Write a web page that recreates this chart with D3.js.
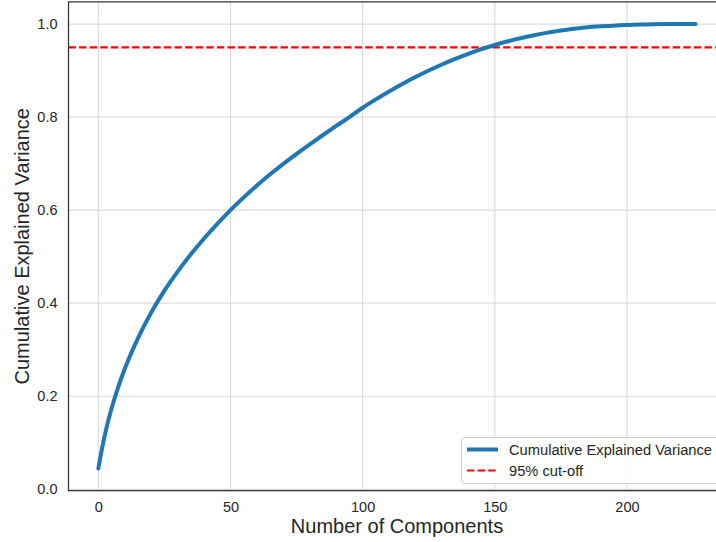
<!DOCTYPE html>
<html>
<head>
<meta charset="utf-8">
<script src="https://cdn.jsdelivr.net/npm/d3@7"></script>
<style>
  html, body { margin: 0; padding: 0; background: #fff; }
  svg { display: block; font-family: "Liberation Sans", Arial, sans-serif; }
</style>
</head>
<body>
<svg id="chart" width="716" height="542"></svg>
<script>
// Components, with cumulative explained variance
const components = [0, 2, 4, 6, 8, 10, 15, 20, 25, 30, 35, 40, 45, 50, 55, 60, 65, 70, 75, 80, 85, 90, 95, 100, 105, 110, 115, 120, 125, 130, 135, 140, 145, 150, 155, 160, 165, 170, 175, 180, 185, 190, 195, 200, 205, 210, 220, 226];
const cumVariance = [0.045, 0.105, 0.153, 0.193, 0.228, 0.259, 0.325, 0.380, 0.427, 0.468, 0.505, 0.539, 0.5705, 0.600, 0.6275, 0.653, 0.677, 0.6995, 0.721, 0.7415, 0.7615, 0.781, 0.800, 0.820, 0.838, 0.855, 0.871, 0.886, 0.900, 0.913, 0.925, 0.936, 0.946, 0.955, 0.963, 0.970, 0.976, 0.9815, 0.986, 0.990, 0.993, 0.995, 0.9965, 0.998, 0.999, 0.9995, 1.0, 1.0];
const cutoff = 0.95;
const xTicks = [0, 50, 100, 150, 200];
const yTicks = [0.0, 0.2, 0.4, 0.6, 0.8, 1.0];
const legendLabels = ["Cumulative Explained Variance", "95% cut-off"];

const svg = d3.select("#chart");
const x = d3.scaleLinear().domain([-11.3, 237.3]).range([68.5, 725.5]);
const y = d3.scaleLinear().domain([-0.003, 1.0478]).range([490.7, 1.8]);
const [x0, x1] = x.range();
const [y0, y1] = y.range();

// grid
const grid = svg.append("g");
grid.selectAll("line.gx").data(xTicks).join("line")
  .attr("x1", d => x(d)).attr("x2", d => x(d)).attr("y1", y1).attr("y2", y0)
  .attr("stroke", "#dcdcdc").attr("stroke-width", 1.2);
grid.selectAll("line.gy").data(yTicks).join("line")
  .attr("x1", x0).attr("x2", x1).attr("y1", d => y(d)).attr("y2", d => y(d))
  .attr("stroke", "#dcdcdc").attr("stroke-width", 1.2);

// axes with no tick marks
const xAxis = svg.append("g").attr("transform", `translate(0,${y0})`)
  .call(d3.axisBottom(x).tickValues(xTicks).tickSize(0).tickPadding(11).tickFormat(d3.format("d")));
const yAxis = svg.append("g").attr("transform", `translate(${x0},0)`)
  .call(d3.axisLeft(y).tickValues(yTicks).tickSize(0).tickPadding(11).tickFormat(d3.format(".1f")));
[xAxis, yAxis].forEach(a => {
  a.select(".domain").remove();
  a.selectAll("text").attr("font-size", 14.5).attr("fill", "#262626")
    .attr("font-family", "'Liberation Sans', Arial, sans-serif");
});

// cut-off line
svg.append("line")
  .attr("x1", x0).attr("x2", x1).attr("y1", y(cutoff)).attr("y2", y(cutoff))
  .attr("stroke", "#ff0000").attr("stroke-width", 2.2).attr("stroke-dasharray", "7.4,3.2");

// curve
const line = d3.line().x((d, i) => x(components[i])).y(d => y(d)).curve(d3.curveMonotoneX);
svg.append("path").datum(cumVariance)
  .attr("d", line).attr("fill", "none")
  .attr("stroke", "#1f77b4").attr("stroke-width", 4).attr("stroke-linecap", "round")
  .attr("stroke-linejoin", "round");

// spines
svg.append("path")
  .attr("d", `M${x1},${y1}H${x0}V${y0}H${x1}`)
  .attr("fill", "none").attr("stroke", "#333").attr("stroke-width", 1.25);

// axis labels
svg.append("text").attr("x", (x0 + x1) / 2).attr("y", 533)
  .attr("text-anchor", "middle").attr("font-size", 20).attr("fill", "#262626")
  .text("Number of Components");
svg.append("text").attr("transform", `translate(29,${(y0 + y1) / 2}) rotate(-90)`)
  .attr("text-anchor", "middle").attr("font-size", 20).attr("fill", "#262626")
  .text("Cumulative Explained Variance");

// legend
const lg = svg.append("g");
lg.append("rect").attr("x", 461.5).attr("y", 437.5).attr("width", 262).attr("height", 46)
  .attr("rx", 3).attr("fill", "#fff").attr("fill-opacity", 0.8)
  .attr("stroke", "#d0d0d0").attr("stroke-width", 1);
const rows = [
  { label: legendLabels[0], color: "#1f77b4", w: 4, dash: null, cy: 449.5 },
  { label: legendLabels[1], color: "#ff0000", w: 2.2, dash: "7.4,3.2", cy: 470.5 }
];
rows.forEach(r => {
  lg.append("line").attr("x1", 467).attr("x2", 498).attr("y1", r.cy).attr("y2", r.cy)
    .attr("stroke", r.color).attr("stroke-width", r.w)
    .attr("stroke-dasharray", r.dash);
  lg.append("text").attr("x", 509).attr("y", r.cy).attr("dy", "0.36em")
    .attr("font-size", 14.7).attr("fill", "#262626").text(r.label);
});
</script>
</body>
</html>
